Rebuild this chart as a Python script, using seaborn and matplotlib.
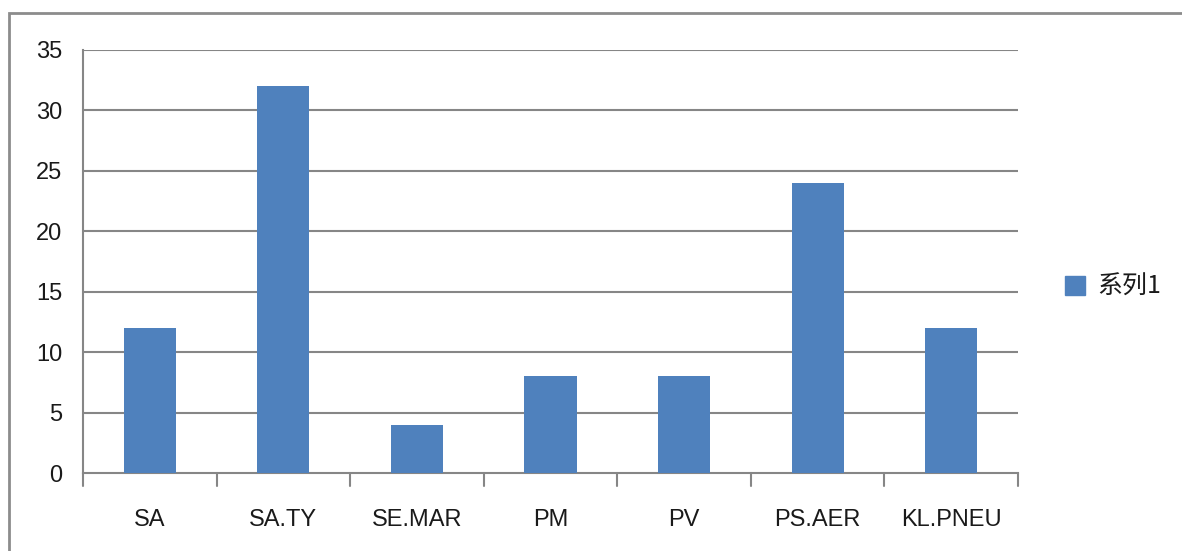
import pandas as pd
import seaborn as sns
import matplotlib.pyplot as plt
from matplotlib.patches import Rectangle, Patch

categories = ["SA", "SA.TY", "SE.MAR", "PM", "PV", "PS.AER", "KL.PNEU"]
values = [12, 32, 4, 8, 8, 24, 12]
series_name = "系列1"

df = pd.DataFrame({"cat": categories, "val": values})

sns.set_style("white")
plt.rcParams['font.family'] = ['Liberation Sans', 'Noto Sans CJK SC', 'DejaVu Sans']
plt.rcParams['text.color'] = "#1a1a1a"

bar_color = "#4F81BD"
grid_color = "#868686"

fig = plt.figure(figsize=(11.82, 5.51), dpi=100)
ax = fig.add_axes([83 / 1182, 1 - 473 / 551, (1018 - 83) / 1182, (473 - 50) / 551])

sns.barplot(data=df, x="cat", y="val", color=bar_color, width=0.39,
            saturation=1, linewidth=0, ax=ax, zorder=3)

ax.set_ylim(0, 35)
ax.set_yticks(range(0, 36, 5))
ax.set_xlim(-0.5, len(categories) - 0.5)
ax.set_xlabel("")
ax.set_ylabel("")

# horizontal grid lines
for y in range(5, 36, 5):
    ax.axhline(y, color=grid_color, lw=1.5, zorder=1)
ax.tick_params(axis="y", length=10, width=1.5, color=grid_color, labelsize=17,
               labelcolor="#1a1a1a", pad=5)
ax.tick_params(axis="x", length=0, labelsize=17, labelcolor="#1a1a1a", pad=26)

# category boundary ticks on the x axis
for b in range(len(categories) + 1):
    ax.plot([b - 0.5, b - 0.5], [0, -0.03], transform=ax.get_xaxis_transform(),
            color=grid_color, lw=1.5, clip_on=False)

for side in ["top", "right"]:
    ax.spines[side].set_visible(False)
for side in ["left", "bottom"]:
    ax.spines[side].set_color(grid_color)
    ax.spines[side].set_linewidth(1.5)

fig.legend(handles=[Patch(color=bar_color, label=series_name)],
           loc="center left", bbox_to_anchor=(1042 / 1182, 1 - 287 / 551),
           frameon=False, handlelength=0.8, handleheight=0.8, handletextpad=0.5,
           prop={"family": ['Noto Sans CJK SC', 'DejaVu Sans'], "size": 18})

# outer chart frame
fig.patches.append(Rectangle((9 / 1182, -0.05), 1.2, 1 - 13 / 551 + 0.05,
                             transform=fig.transFigure, fill=False,
                             edgecolor="#8c8c8c", lw=2))

fig.savefig("out.png", dpi=100)
